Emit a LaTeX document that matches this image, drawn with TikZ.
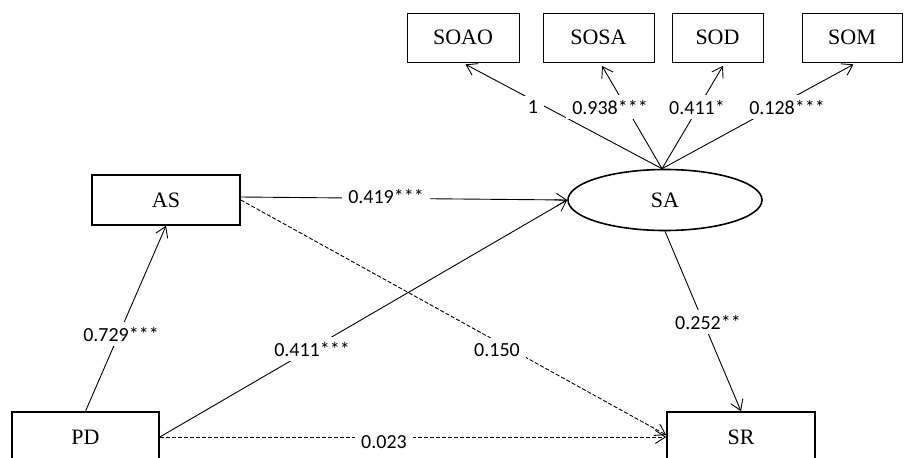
\documentclass[tikz,border=0pt]{standalone}
\usepackage{fontspec}
\setmainfont{Liberation Serif}
\newfontfamily\numfont{Carlito}
\usetikzlibrary{arrows.meta,shapes.geometric}
\begin{document}
\begin{tikzpicture}[x=1pt,y=-1pt,
  obsbox/.style={draw,line width=1.6pt,minimum width=148pt,minimum height=50pt,inner sep=0pt,font=\fontsize{22}{24}\selectfont},
  indbox/.style={draw,line width=0.9pt,minimum height=49pt,inner sep=0pt,font=\fontsize{22}{24}\selectfont},
  latent/.style={draw,ellipse,line width=1.6pt,minimum width=194pt,minimum height=61pt,inner sep=0pt,font=\fontsize{22}{24}\selectfont},
  conn/.style={line width=0.9pt,-{Straight Barb[length=10pt,width=13pt,line width=0.9pt]}},
  dconn/.style={conn,dash pattern=on 4pt off 2pt},
  lbl/.style={fill=white,inner xsep=6pt,inner ysep=5pt,font=\numfont\fontsize{20}{22}\selectfont}]
\useasboundingbox (0,0) rectangle (908,458);
% indicator boxes
\node[indbox,minimum width=112pt] (SOAO) at (463,37.5) {SOAO};
\node[indbox,minimum width=111pt] (SOSA) at (598.5,37.5) {SOSA};
\node[indbox,minimum width=91pt] (SOD) at (717.5,37.5) {SOD};
\node[indbox,minimum width=100pt] (SOM) at (852,37.5) {SOM};
% main nodes
\node[latent] (SA) at (665,200) {SA};
\node[obsbox] (AS) at (166,200) {AS};
\node[obsbox,minimum width=147pt] (PD) at (85.5,437) {PD};
\node[obsbox] (SR) at (741,437) {SR};
% loadings
\draw[conn,shorten >=4pt] ([xshift=-3pt]SA.north) -- ([xshift=-1pt]SOAO.south);
\draw[conn,shorten >=4pt] ([xshift=-3pt]SA.north) -- ([xshift=1.5pt]SOSA.south);
\draw[conn,shorten >=4pt] ([xshift=-3pt]SA.north) -- ([xshift=7.5pt]SOD.south);
\draw[conn,shorten >=4pt] ([xshift=-3pt]SA.north) -- ([xshift=5pt]SOM.south);
% structural paths
\draw[conn] (PD.north) -- (AS.south);
\draw[conn] (PD.east) -- (SA.west);
\draw[conn] ([yshift=3pt]AS.east) -- (SA.west);
\draw[conn] (SA.south) -- (SR.north);
\draw[dconn] (AS.east) -- ([yshift=2pt]SR.west);
\draw[dconn] (PD.east) -- (SR.west);
% labels
\node[lbl] (l1) at (533,107) {1};
\node[lbl] (l2) at (610,107) {0.938***};
\node[lbl] (l3) at (697,107) {0.411*};
\node[lbl] (l4) at (787,107) {0.128***};
\node[lbl] (l5) at (386,196) {0.419***};
\node[lbl] (l6) at (121,334) {0.729***};
\node[lbl] (l7) at (312,349) {0.411***};
\node[lbl] (l8) at (497,350) {0.150};
\node[lbl] (l9) at (708,322) {0.252**};
\node[lbl] (l10) at (384,442) {0.023};
\end{tikzpicture}
\end{document}
